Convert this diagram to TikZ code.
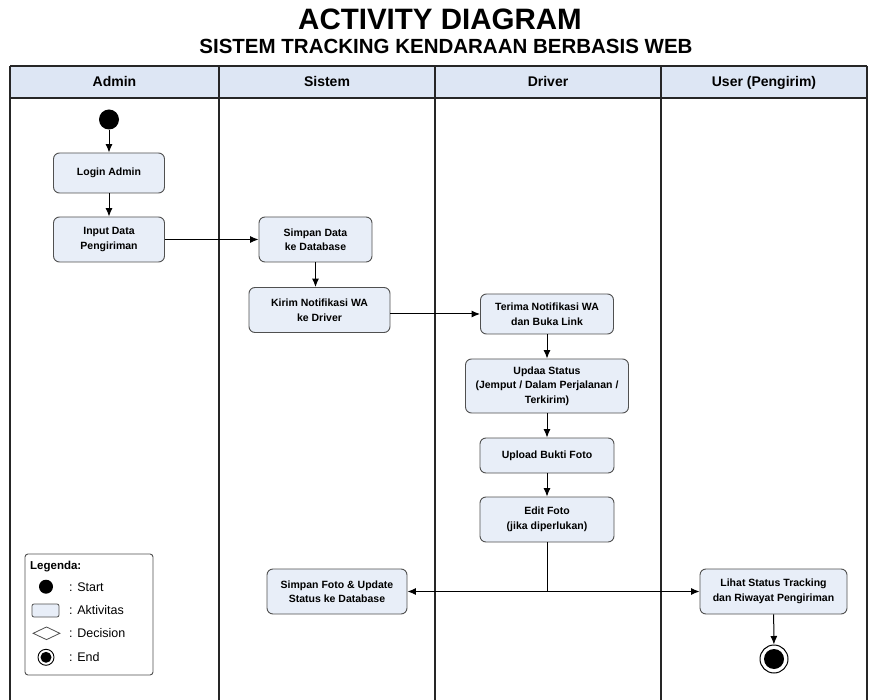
\documentclass[tikz,border=0pt]{standalone}
\usepackage{fontspec}
\setmainfont{Liberation Sans}
\usetikzlibrary{arrows.meta,shapes.geometric,calc}
\definecolor{boxblue}{HTML}{E8EEF8}
\definecolor{headblue}{HTML}{DDE6F4}
\definecolor{boxline}{HTML}{505050}
\tikzset{
  act/.style={draw=boxline, fill=boxblue, rounded corners=6pt, line width=0.9pt,
    align=center, inner sep=0pt, font=\bfseries\fontsize{10.5}{14.5}\selectfont},
  flow/.style={-{Latex[length=8.5pt,width=7pt]}, line width=1pt},
  lane/.style={line width=1.2pt, draw=black!85},
  lanehead/.style={anchor=base, font=\bfseries\fontsize{14}{16}\selectfont},
  legtext/.style={anchor=west, inner sep=0pt, font=\fontsize{12.5}{14}\selectfont},
}
\begin{document}
\begin{tikzpicture}[x=1pt,y=-1pt]
\useasboundingbox (0,0) rectangle (870,700);
\fill[white] (0,0) rectangle (870,700);

% titles
\node[font=\bfseries\fontsize{29.5}{31}\selectfont] (title) at (440,19) {ACTIVITY DIAGRAM};
\node[font=\bfseries\fontsize{20.5}{22}\selectfont] (subtitle) at (446,46) {SISTEM TRACKING KENDARAAN BERBASIS WEB};

% swimlanes
\fill[headblue] (10,66) rectangle (867,98);
\draw[lane] (10,66) -- (867,66);
\draw[lane] (10,98) -- (867,98);
\draw[lane] (10,66) -- (10,700);
\draw[lane] (219,66) -- (219,700);
\draw[lane] (435,66) -- (435,700);
\draw[lane] (661,66) -- (661,700);
\draw[lane] (867,66) -- (867,700);
\node[lanehead] (hadmin) at (114.5,87) {Admin};
\node[lanehead] (hsistem) at (327,87) {Sistem};
\node[lanehead] (hdriver) at (548,87) {Driver};
\node[lanehead] (huser) at (764,87) {User (Pengirim)};

% start
\node[circle, fill=black, minimum size=20pt, inner sep=0pt] (start) at (109,119.5) {};

% activities
\node[act, minimum width=111pt, minimum height=40pt] (login) at (109,173) {Login Admin};
\node[act, minimum width=111pt, minimum height=45pt] (input) at (109,239.5) {Input Data\\Pengiriman};
\node[act, minimum width=113pt, minimum height=45pt] (simpan) at (315.5,239.5) {Simpan Data\\ke Database};
\node[act, minimum width=141pt, minimum height=45pt] (kirim) at (319.5,310) {Kirim Notifikasi WA\\ke Driver};
\node[act, minimum width=133pt, minimum height=40pt] (terima) at (547,314) {Terima Notifikasi WA\\dan Buka Link};
\node[act, minimum width=163pt, minimum height=54pt] (update) at (547,386) {Updaa Status\\(Jemput / Dalam Perjalanan /\\Terkirim)};
\node[act, minimum width=134pt, minimum height=35pt] (upload) at (547,455.5) {Upload Bukti Foto};
\node[act, minimum width=134pt, minimum height=45pt] (edit) at (547,519.5) {Edit Foto\\(jika diperlukan)};
\node[act, minimum width=140pt, minimum height=45pt] (simpanfoto) at (337,591.5) {Simpan Foto \& Update\\Status ke Database};
\node[act, minimum width=147pt, minimum height=45pt] (lihat) at (773.5,591.5) {Lihat Status Tracking\\dan Riwayat Pengiriman};

% end
\node[circle, draw=black, line width=1pt, fill=white, minimum size=28pt, inner sep=0pt] (finish) at (774,659) {};
\node[circle, fill=black, minimum size=20pt, inner sep=0pt] (finishin) at (finish) {};

% flows
\draw[flow] (start) -- (login);
\draw[flow] (login) -- (input);
\draw[flow] (input) -- (simpan);
\draw[flow] (simpan.south) -- (simpan.south |- kirim.north);
\draw[flow] (kirim.east |- terima.west) -- (terima.west);
\draw[flow] (terima) -- (update);
\draw[flow] (update) -- (upload);
\draw[flow] (upload) -- (edit);
\coordinate (junction) at (edit.south |- lihat.west);
\draw[line width=1pt] (edit.south) -- (junction);
\draw[flow] (junction) -- (simpanfoto.east);
\draw[flow] (junction) -- (lihat.west);
\draw[flow] (lihat) -- (finish);

% legend
\node[draw=boxline, fill=white, rounded corners=3pt, line width=0.9pt, minimum width=128pt, minimum height=121pt, inner sep=0pt] (legend) at (89,614.5) {};
\node[anchor=west, inner sep=0pt, font=\bfseries\fontsize{11.5}{13}\selectfont] (legtitle) at (30,566.5) {Legenda:};
\node[circle, fill=black, minimum size=14pt, inner sep=0pt] (lstart) at (46,586.7) {};
\node[legtext] (tstart) at (69,586.7) {: Start};
\node[draw=boxline, fill=boxblue, rounded corners=2pt, line width=0.8pt, minimum width=27pt, minimum height=13pt, inner sep=0pt] (lact) at (45.5,610.5) {};
\node[legtext] (tact) at (69,610.5) {: Aktivitas};
\node[diamond, draw=boxline, fill=white, line width=0.8pt, minimum width=27pt, minimum height=13pt, inner sep=0pt, aspect=2] (ldec) at (46.5,633.3) {};
\node[legtext] (tdec) at (69,633.3) {: Decision};
\node[circle, draw=black, line width=0.9pt, fill=white, minimum size=16pt, inner sep=0pt] (lend) at (46,657.3) {};
\node[circle, fill=black, minimum size=11pt, inner sep=0pt] (lendin) at (lend) {};
\node[legtext] (tend) at (69,657.3) {: End};
\end{tikzpicture}
\end{document}
